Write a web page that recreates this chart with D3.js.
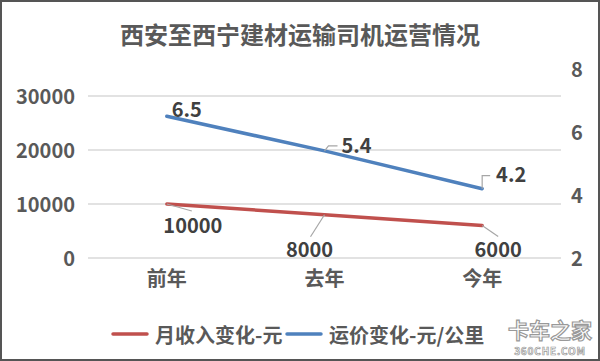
<!DOCTYPE html>
<html><head><meta charset="utf-8">
<script src="https://cdn.jsdelivr.net/npm/d3@7"></script>
<style>html,body{margin:0;padding:0;background:#fff;}svg{display:block;}</style>
</head><body>
<script>
const title = "西安至西宁建材运输司机运营情况";
const categories = ["前年", "去年", "今年"];
const incomeName = "月收入变化-元";
const incomeValues = [10000, 8000, 6000];
const priceName = "运价变化-元/公里";
const priceValues = [6.5, 5.4, 4.2];
const leftTicks = [0, 10000, 20000, 30000];
const rightTicks = [2, 4, 6, 8];

const W = 600, H = 361;
const FONT = "'Noto Sans CJK SC','Noto Sans',sans-serif";
const svg = d3.select("body").append("svg").attr("width", W).attr("height", H);
svg.append("rect").attr("x", 1).attr("y", 1).attr("width", W - 2).attr("height", H - 2)
  .attr("fill", "#fff").attr("stroke", "#555").attr("stroke-width", 2);

const x = d3.scaleBand().domain(categories).range([88, 561]);
const cx = d => x(d) + x.bandwidth() / 2;
const yL = d3.scaleLinear().domain([0, 30000]).range([258, 96]);
const yR = d3.scaleLinear().domain([2, 8]).range([258, 69]);

// title
svg.append("text").attr("x", 300).attr("y", 33).attr("text-anchor", "middle")
  .attr("dominant-baseline", "central").attr("font-family", FONT).attr("font-weight", "bold")
  .attr("font-size", 24).attr("fill", "#595959").text(title);

// gridlines
svg.append("g").selectAll("line").data(leftTicks).join("line")
  .attr("x1", 88).attr("x2", 561).attr("y1", d => yL(d)).attr("y2", d => yL(d))
  .attr("stroke", "#D9D9D9").attr("stroke-width", 1.3);

// left axis
const axL = svg.append("g").attr("transform", "translate(80,0)")
  .call(d3.axisLeft(yL).tickValues(leftTicks).tickSize(0).tickPadding(5).tickFormat(d3.format("d")));
axL.select(".domain").remove();
axL.selectAll("text").attr("font-family", FONT).attr("font-weight", "bold").attr("font-size", 20)
  .attr("fill", "#595959").attr("dy", "0.35em");

// right axis
const axR = svg.append("g").attr("transform", "translate(571,0)")
  .call(d3.axisRight(yR).tickValues(rightTicks).tickSize(0).tickPadding(0).tickFormat(d3.format("d")));
axR.select(".domain").remove();
axR.selectAll("text").attr("font-family", FONT).attr("font-weight", "bold").attr("font-size", 20)
  .attr("fill", "#595959").attr("dy", "0.35em");

// x axis labels
const axX = svg.append("g").attr("transform", "translate(0,258)")
  .call(d3.axisBottom(x).tickSize(0).tickPadding(14));
axX.select(".domain").remove();
axX.selectAll("text").attr("font-family", FONT).attr("font-weight", "bold").attr("font-size", 20)
  .attr("fill", "#595959");

// lines
const RED = "#C0504D", BLUE = "#4F81BD";
const incPts = categories.map((c, i) => [cx(c), yL(incomeValues[i])]);
const prPts = categories.map((c, i) => [cx(c), yR(priceValues[i])]);
svg.append("path").attr("d", d3.line()(incPts)).attr("fill", "none").attr("stroke", RED)
  .attr("stroke-width", 3.5).attr("stroke-linecap", "round");
svg.append("path").attr("d", d3.line()(prPts)).attr("fill", "none").attr("stroke", BLUE)
  .attr("stroke-width", 3.5).attr("stroke-linecap", "round");

// data labels with leader lines (offsets relative to point)
const incLabelOff = [[26, 29], [-15, 42], [16, 31]];
const incLeader = [[[0, 0], [25, 7]], [[0, 0], [-14, 22]], [[0, 0], [16, 11]]];
const prLabelOff = [[20, 1], [32, 2], [29, -7]];
const prLeader = [null, [[0, 0], [4, -5], [13, -5]], [[0, 0], [0, -13], [8, -13]]];

function labels(pts, vals, off, leaders, fmt) {
  pts.forEach((p, i) => {
    if (leaders[i]) {
      svg.append("path").attr("d", d3.line()(leaders[i].map(q => [p[0] + q[0], p[1] + q[1]])))
        .attr("fill", "none").attr("stroke", "#A6A6A6").attr("stroke-width", 1.2);
    }
    svg.append("text").attr("x", p[0] + off[i][0]).attr("y", p[1] + off[i][1])
      .attr("text-anchor", "middle").attr("font-family", FONT).attr("font-weight", "bold")
      .attr("font-size", 20).attr("fill", "#404040").text(fmt(vals[i]));
  });
}
labels(incPts, incomeValues, incLabelOff, incLeader, d3.format("d"));
labels(prPts, priceValues, prLabelOff, prLeader, d3.format(".1f"));

// legend
const leg = svg.append("g");
[[incomeName, RED, 113], [priceName, BLUE, 287]].forEach(([name, col, lx]) => {
  leg.append("line").attr("x1", lx).attr("x2", lx + 34).attr("y1", 334).attr("y2", 334)
    .attr("stroke", col).attr("stroke-width", 3.5).attr("stroke-linecap", "round");
  leg.append("text").attr("x", lx + 42).attr("y", 334).attr("dominant-baseline", "central")
    .attr("font-family", FONT).attr("font-weight", "bold").attr("font-size", 20)
    .attr("fill", "#595959").text(name);
});

// watermark
svg.append("text").attr("x", 550).attr("y", 338).attr("text-anchor", "middle")
  .attr("font-family", FONT).attr("font-weight", "bold").attr("font-size", 21)
  .attr("fill", "#fff").attr("stroke", "#999").attr("stroke-width", 1.2).text("卡车之家");
svg.append("text").attr("x", 550).attr("y", 355).attr("text-anchor", "middle")
  .attr("font-family", FONT).attr("font-weight", "bold").attr("font-size", 10)
  .attr("fill", "#fff").attr("stroke", "#999").attr("stroke-width", 0.7).attr("letter-spacing", 0.8).text("360CHE.COM");
</script>
</body></html>
